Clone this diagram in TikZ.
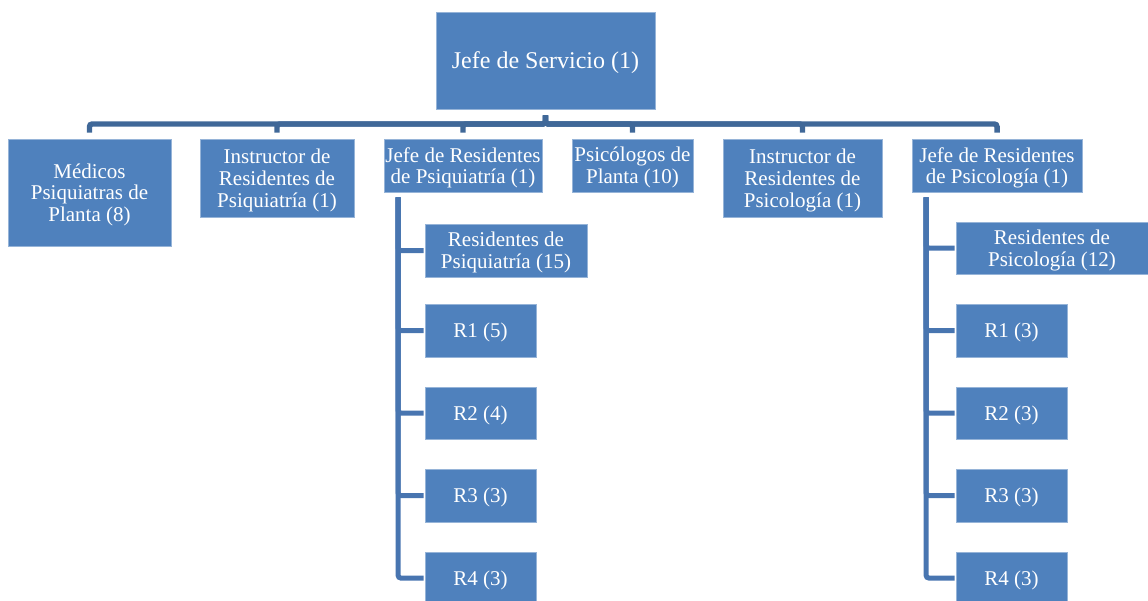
\documentclass[tikz,border=0pt]{standalone}
\usepackage{fontspec}
\setmainfont{Liberation Serif}
\usetikzlibrary{calc}
\definecolor{boxfill}{RGB}{79,129,189}
\definecolor{boxedge}{RGB}{150,180,216}
\definecolor{busblue}{RGB}{64,104,152}
\definecolor{subblue}{RGB}{72,117,176}
\begin{document}
\begin{tikzpicture}[x=0.75pt,y=-0.75pt,
  box/.style={rectangle, fill=boxfill, draw=boxedge, line width=0.6pt,
    text=white, align=center, inner sep=0pt, text depth=0pt,
    font=\fontsize{15.75}{16.3}\selectfont},
  sz/.style 2 args={minimum width=#1*0.75pt, minimum height=#2*0.75pt},
  busline/.style={draw=busblue, line width=4.1pt, rounded corners=2pt,
    shorten <=4.5pt, shorten >=4.5pt},
  subline/.style={draw=subblue, line width=3.75pt, rounded corners=2pt,
    shorten >=0.75pt}]
\useasboundingbox (0,0) rectangle (1148,600);

% head of service
\node[box, sz={219}{97}, font=\fontsize{18}{20}\selectfont] (root) at (545.5,60.5) {Jefe de Servicio (1)};

% second level
\node[box, sz={163}{107}] (med) at (89.5,192.5) {Médicos\\Psiquiatras de\\Planta (8)};
\node[box, sz={154}{78}]  (ipq) at (277,178) {Instructor de\\Residentes de\\Psiquiatría (1)};
\node[box, sz={158}{53}]  (jrp) at (463,165.5) {Jefe de Residentes\\de Psiquiatría (1)};
\node[box, sz={121}{53}]  (psi) at (632.5,165.5) {Psicólogos de\\Planta (10)};
\node[box, sz={159}{78}]  (ips) at (802.5,178) {Instructor de\\Residentes de\\Psicología (1)};
\node[box, sz={170}{53}]  (jrs) at (997,165.5) {Jefe de Residentes\\de Psicología (1)};

% psychiatry residents
\node[box, sz={162}{53}] (rp)  at (506,250.5) {Residentes de\\Psiquiatría (15)};
\node[box, sz={111}{53}] (rp1) at (480.5,330.5) {R1 (5)};
\node[box, sz={111}{52}] (rp2) at (480.5,413) {R2 (4)};
\node[box, sz={111}{53}] (rp3) at (480.5,495.5) {R3 (3)};
\node[box, sz={111}{52}] (rp4) at (480.5,578) {R4 (3)};

% psychology residents
\node[box, sz={192}{52}] (rs)  at (1052,248) {Residentes de\\Psicología (12)};
\node[box, sz={111}{53}] (rs1) at (1011.5,330.5) {R1 (3)};
\node[box, sz={111}{52}] (rs2) at (1011.5,413) {R2 (3)};
\node[box, sz={111}{53}] (rs3) at (1011.5,495.5) {R3 (3)};
\node[box, sz={111}{52}] (rs4) at (1011.5,578) {R4 (3)};

% horizontal bus below the head
\coordinate (bus) at (0,124);
\foreach \c in {med,ipq,jrp,psi,ips,jrs}
  \draw[busline] (root.south) -- (root.south |- bus) -| (\c.north);

% vertical spines for the resident groups
\foreach \c in {rp,rp1,rp2,rp3,rp4}
  \draw[subline] ($(jrp.south west)+(14.5,5)$) |- (\c.west);
\foreach \c in {rs,rs1,rs2,rs3,rs4}
  \draw[subline] ($(jrs.south west)+(14.5,5)$) |- (\c.west);
\end{tikzpicture}
\end{document}
